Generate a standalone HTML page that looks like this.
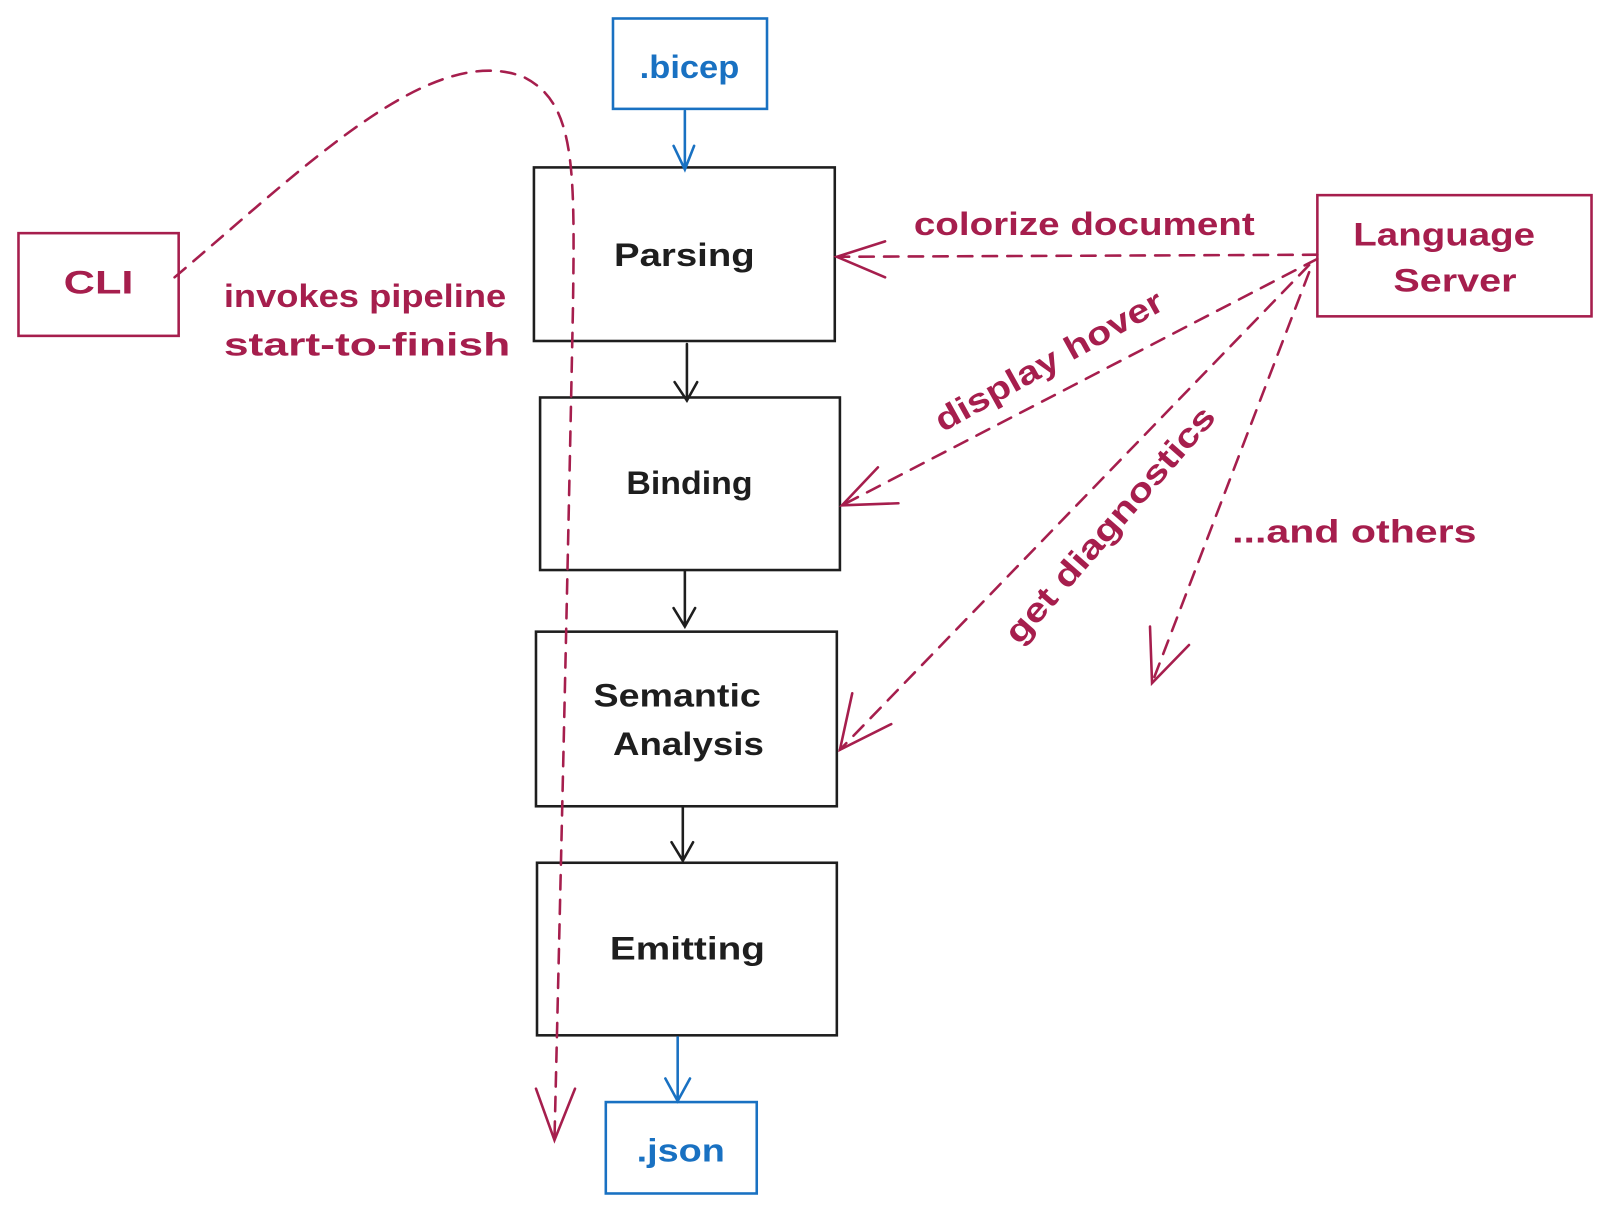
<!DOCTYPE html>
<html><head><meta charset="utf-8"><style>
html,body{margin:0;padding:0;background:#fff;}
svg{display:block;}
text{font-family:"Liberation Sans",sans-serif;}
</style></head><body>
<svg width="1610" height="1213" viewBox="0 0 1568 1181" preserveAspectRatio="none" xmlns="http://www.w3.org/2000/svg">
<g fill="none" stroke-width="2.5" stroke-linecap="round">
 <g stroke="#1e1e1e">
  <rect x="520" y="163" width="293" height="169"/>
  <rect x="526" y="387" width="292" height="168"/>
  <rect x="522" y="615" width="293" height="170"/>
  <rect x="523" y="840" width="292" height="168"/>
  <path d="M669 335 V390 M657 372 L669 390 L679 372"/>
  <path d="M667 556 V610 M656 592 L667 610 L677 592"/>
  <path d="M665 786 V838 M654 820 L665 838 L675 820"/>
 </g>
 <g stroke="#1971c2">
  <rect x="597" y="18" width="150" height="88"/>
  <rect x="590" y="1073" width="147" height="89"/>
  <path d="M667 108 V165 M656 142 L667 165 L676 142"/>
  <path d="M660 1010 V1072 M648 1050 L660 1072 L672 1050"/>
 </g>
 <g stroke="#a61e4d">
  <rect x="18" y="227" width="156" height="100"/>
  <rect x="1283" y="190" width="267" height="118"/>
  <g stroke-dasharray="14 10">
   <path d="M170 270 C300 160 420 40 510 75 C560 100 560 160 558 300 C552 600 545 900 540 1110"/>
   <path d="M1283 248 L815 250"/>
   <path d="M1283 252 L820 492"/>
   <path d="M1275 258 L818 730"/>
   <path d="M1275 265 L1122 665"/>
  </g>
  <path d="M522 1060 L540 1110 L560 1060"/>
  <path d="M862 235 L815 250 L862 270"/>
  <path d="M855 455 L820 492 L875 490"/>
  <path d="M830 675 L818 730 L868 705"/>
  <path d="M1120 610 L1122 665 L1158 628"/>
 </g>
</g>
<g font-size="32" fill="#1e1e1e" font-weight="bold" lengthAdjust="spacingAndGlyphs">
 <text x="598" y="259" textLength="137" lengthAdjust="spacingAndGlyphs">Parsing</text>
 <text x="610" y="481" textLength="123" lengthAdjust="spacingAndGlyphs">Binding</text>
 <text x="578" y="688" textLength="163" lengthAdjust="spacingAndGlyphs">Semantic</text>
 <text x="597" y="735" textLength="147" lengthAdjust="spacingAndGlyphs">Analysis</text>
 <text x="594" y="934" textLength="151" lengthAdjust="spacingAndGlyphs">Emitting</text>
</g>
<g font-size="32" fill="#1971c2" font-weight="bold">
 <text x="623" y="76" textLength="97" lengthAdjust="spacingAndGlyphs">.bicep</text>
 <text x="620" y="1131" textLength="86" lengthAdjust="spacingAndGlyphs">.json</text>
</g>
<g font-size="32" fill="#a61e4d" font-weight="bold">
 <text x="62" y="286" textLength="68" lengthAdjust="spacingAndGlyphs">CLI</text>
 <text x="1318" y="239" textLength="177" lengthAdjust="spacingAndGlyphs">Language</text>
 <text x="1357" y="284" textLength="120" lengthAdjust="spacingAndGlyphs">Server</text>
 <text x="218" y="299" textLength="275" lengthAdjust="spacingAndGlyphs">invokes pipeline</text>
 <text x="218" y="346" textLength="279" lengthAdjust="spacingAndGlyphs">start-to-finish</text>
 <text x="890" y="229" textLength="332" lengthAdjust="spacingAndGlyphs">colorize document</text>
 <text x="1200" y="528" textLength="238" lengthAdjust="spacingAndGlyphs">...and others</text>
 <text x="1022" y="362" text-anchor="middle" textLength="249" lengthAdjust="spacingAndGlyphs" transform="rotate(-29 1022 352)">display hover</text>
 <text x="1080" y="522" text-anchor="middle" textLength="294" lengthAdjust="spacingAndGlyphs" transform="rotate(-49 1080 510)">get diagnostics</text>
</g>
</svg>
</body></html>
